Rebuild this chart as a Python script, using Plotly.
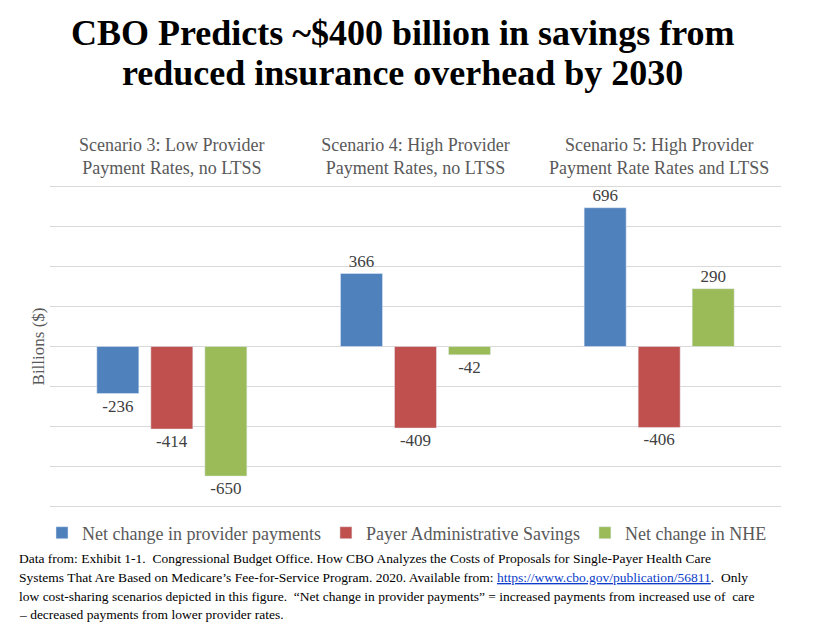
import plotly.graph_objects as go

categories = [
    "Scenario 3: Low Provider<br>Payment Rates, no LTSS",
    "Scenario 4: High Provider<br>Payment Rates, no LTSS",
    "Scenario 5: High Provider<br>Payment Rate Rates and LTSS",
]
series_names = [
    "Net change in provider payments",
    "Payer Administrative Savings",
    "Net change in NHE",
]
provider_payments = [-236, 366, 696]
admin_savings = [-414, -409, -406]
nhe_change = [-650, -42, 290]
colors = ["#4F81BD", "#C0504D", "#9BBB59"]
grid_values = [-800, -600, -400, -200, 0, 200, 400, 600, 800]

title_lines = [
    "CBO Predicts ~$400 billion in savings from",
    "reduced insurance overhead by 2030",
]
footnote_lines = [
    "Data from: Exhibit 1-1.  Congressional Budget Office. How CBO Analyzes the Costs of Proposals for Single-Payer Health Care",
    "Systems That Are Based on Medicare’s Fee-for-Service Program. 2020. Available from: "
    "<a href=\"https://www.cbo.gov/publication/56811\" style=\"color:#0b3cc9\"><u>https://www.cbo.gov/publication/56811</u></a>.  Only",
    "low cost-sharing scenarios depicted in this figure.  “Net change in provider payments” = increased payments from increased use of  care",
    "– decreased payments from lower provider rates.",
]

SERIF = "Liberation Serif, Times New Roman, serif"
W, H = 818, 630
OFF = 8  # page body margin offset of the rendered figure
# plot area in screen pixels (range padded so the +-800 gridlines are drawn)
SX0, SX1, SY0, SY1 = 50, 781, 181, 512
ML, MR = SX0 - OFF, W - (SX1 - OFF)
MT, MB = SY0 - OFF, H - (SY1 - OFF)
PW, PH = W - ML - MR, H - MT - MB


def px(x):
    return (x - OFF - ML) / PW


def py(y):
    return (H - MB - (y - OFF)) / PH


fig = go.Figure()
for name, vals, col in zip(series_names, [provider_payments, admin_savings, nhe_change], colors):
    fig.add_trace(go.Bar(
        x=categories, y=vals, name=name, marker_color=col,
        text=[str(v) for v in vals], textposition="outside",
        textfont=dict(family=SERIF, size=17, color="#404040"),
        cliponaxis=False,
    ))

fig.update_layout(
    width=W, height=H,
    paper_bgcolor="white", plot_bgcolor="white",
    margin=dict(l=ML, r=MR, t=MT, b=MB, autoexpand=False),
    barmode="group", bargap=0.335, bargroupgap=0.222,
    showlegend=True,
    legend=dict(orientation="h", xref="container", x=(407 - OFF) / W, xanchor="center",
                yref="container", y=(H - (533 - OFF)) / H, yanchor="middle",
                font=dict(family=SERIF, size=18, color="#595959"),
                itemwidth=30, tracegroupgap=0),
    xaxis=dict(side="top", showline=False, ticks="", showgrid=False, automargin=False,
               tickfont=dict(family=SERIF, size=18, color="#595959"),
               ticklabelstandoff=2),
    yaxis=dict(range=[-830, 830], tickvals=grid_values,
               showticklabels=False, automargin=False,
               gridcolor="#d9d9d9", gridwidth=1, zeroline=True,
               zerolinecolor="#d9d9d9", zerolinewidth=1,
               title=dict(text="Billions ($)", standoff=0,
                          font=dict(family=SERIF, size=17, color="#595959"))),
    font=dict(family=SERIF),
)

title_y = [33, 73]
for line, ty in zip(title_lines, title_y):
    fig.add_annotation(text="<b>" + line + "</b>", xref="paper", yref="paper",
                       x=px(402), y=py(ty),
                       xanchor="center", yanchor="middle", showarrow=False,
                       font=dict(family=SERIF, size=36, color="black"))

foot_y = [558, 577, 596, 614]
for line, fy in zip(footnote_lines, foot_y):
    fig.add_annotation(text=line, xref="paper", yref="paper",
                       x=px(17), y=py(fy),
                       xanchor="left", yanchor="middle", showarrow=False, align="left",
                       font=dict(family=SERIF, size=13.5, color="black"))

fig.write_html("out.html")
